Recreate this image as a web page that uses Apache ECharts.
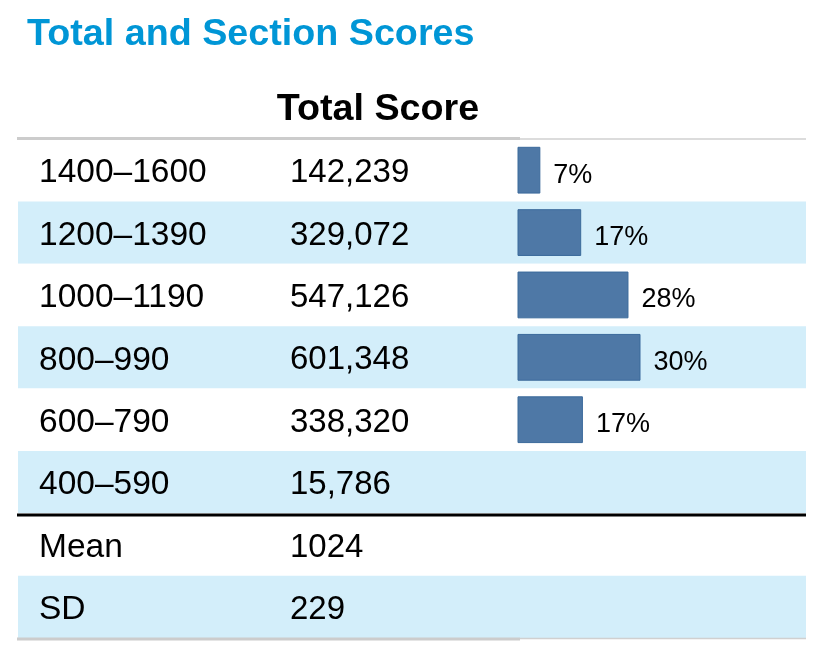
<!DOCTYPE html>
<html>
<head>
<meta charset="utf-8">
<script src="https://cdn.jsdelivr.net/npm/echarts@6/dist/echarts.min.js"></script>
<style>html,body{margin:0;padding:0;background:#fff}#c{width:827px;height:655px}</style>
</head>
<body>
<div id="c"></div>
<script>
const rowLabels = ['1400–1600','1200–1390','1000–1190','800–990','600–790','400–590','Mean','SD'];
const countLabels = ['142,239','329,072','547,126','601,348','338,320','15,786','1024','229'];
const barValues = [7.2, 16.7, 27.7, 30.5, 17.1, '-', '-', '-'];
const pctLabels = ['7%','17%','28%','30%','17%','','',''];

const FONT = '"Liberation Sans", Arial, sans-serif';
const chart = echarts.init(document.getElementById('c'), null, {renderer:'canvas'});
const gridTop = 139, gridBottom = 17;
chart.setOption({
  animation: false,
  backgroundColor: '#fff',
  title: [
    {text: 'Total and Section Scores', left: 27, top: 16, padding: 0,
     textStyle: {fontFamily: FONT, fontSize: 37.7, fontWeight: 'bold', color: '#0096d6'}},
    {text: 'Total Score', left: 378, top: 91, padding: 0, textAlign: 'center',
     textStyle: {fontFamily: FONT, fontSize: 37.7, fontWeight: 'bold', color: '#000'}}
  ],
  grid: [
    {left: 18, right: 21, top: gridTop, bottom: gridBottom},
    {left: 518, right: 21, top: gridTop, bottom: gridBottom}
  ],
  xAxis: [
    {gridIndex: 0, type: 'value', min: 0, max: 1, show: false},
    {gridIndex: 1, type: 'value', min: 2, max: 69, show: false}
  ],
  yAxis: [
    {gridIndex: 0, type: 'category', position: 'left', data: rowLabels, inverse: true,
     axisLine: {show: false}, axisTick: {show: false},
     splitLine: {show: false},
     splitArea: {show: true, areaStyle: {color: ['#ffffff', '#d3eefa']}},
     axisLabel: {align: 'left', verticalAlign: 'top', lineHeight: 6, margin: -21, fontFamily: FONT, fontSize: 33.5, color: '#000'}},
    {gridIndex: 0, type: 'category', position: 'left', data: countLabels, inverse: true,
     axisLine: {show: false}, axisTick: {show: false},
     splitLine: {show: false},
     axisLabel: {align: 'left', verticalAlign: 'top', lineHeight: 6, margin: -272, fontFamily: FONT, fontSize: 33, color: '#000'}},
    {gridIndex: 1, type: 'category', data: rowLabels, inverse: true, show: false}
  ],
  series: [
    {type: 'bar', xAxisIndex: 1, yAxisIndex: 2, data: barValues,
     barCategoryGap: '25%', clip: true,
     itemStyle: {color: '#4e78a6', borderColor: '#3b6a9b', borderWidth: 1},
     label: {show: true, position: 'right', distance: 13, offset: [0, 5],
       fontFamily: FONT, fontSize: 27, color: '#000',
       formatter: p => pctLabels[p.dataIndex]}}
  ],
  graphic: [
    {type: 'line', z: 100, shape: {x1: 17, y1: 138.5, x2: 520, y2: 138.5}, style: {stroke: '#cccccc', lineWidth: 3}},
    {type: 'line', z: 100, shape: {x1: 520, y1: 139, x2: 806, y2: 139}, style: {stroke: '#d0d0d0', lineWidth: 1.5}},
    {type: 'line', z: 100, shape: {x1: 17, y1: 515, x2: 806, y2: 515}, style: {stroke: '#000000', lineWidth: 3}},
    {type: 'line', z: 100, shape: {x1: 17, y1: 639, x2: 520, y2: 639}, style: {stroke: '#cccccc', lineWidth: 3}},
    {type: 'line', z: 100, shape: {x1: 520, y1: 638.5, x2: 806, y2: 638.5}, style: {stroke: '#d0d0d0', lineWidth: 1.5}}
  ]
});
</script>
</body>
</html>
